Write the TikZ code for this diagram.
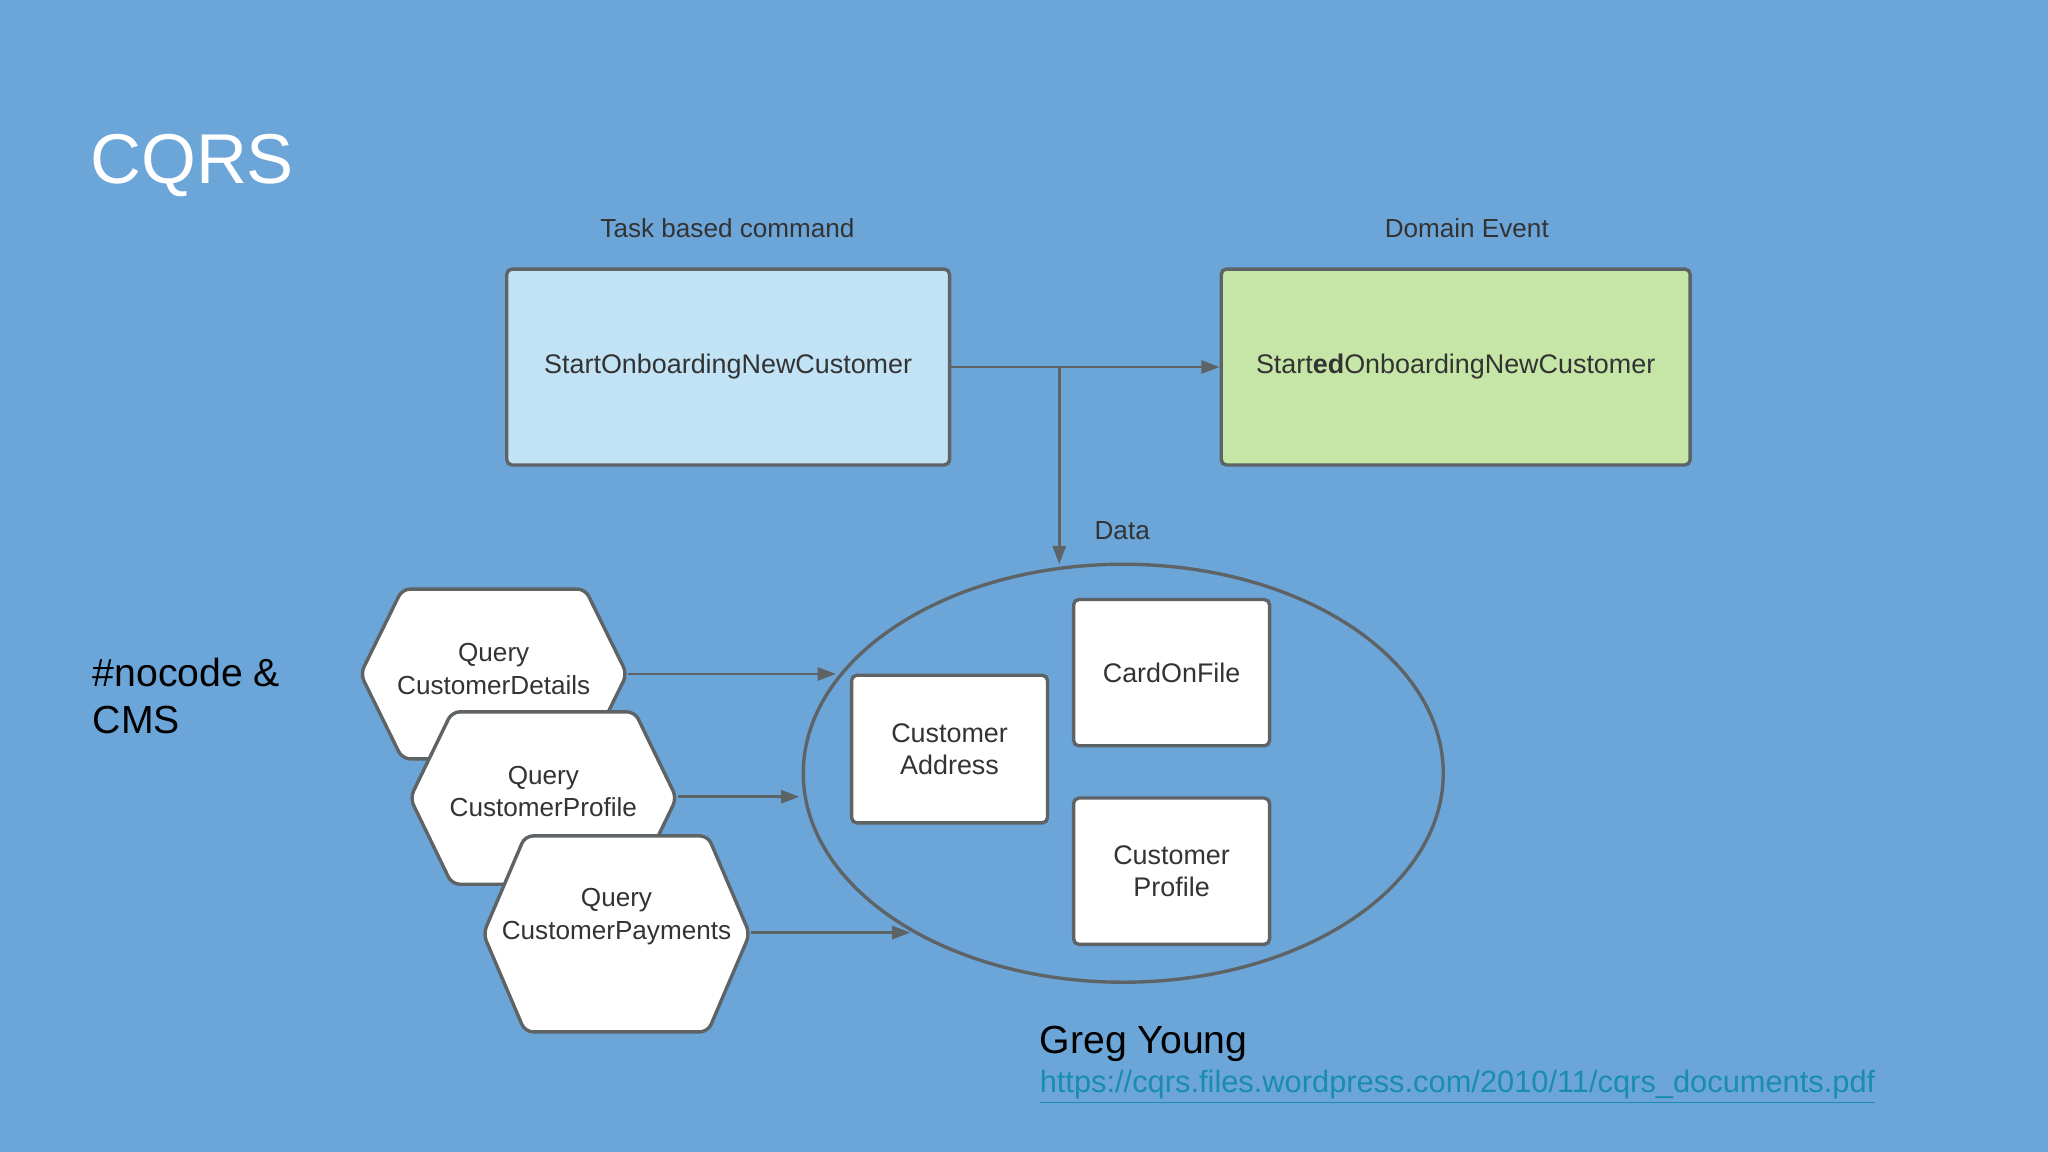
\documentclass[tikz,border=0pt]{standalone}
\usepackage{fontspec}
\setmainfont{Liberation Sans}
\usetikzlibrary{arrows.meta}
\definecolor{bg}{HTML}{6CA6D9}
\definecolor{bluebox}{HTML}{C2E2F5}
\definecolor{greenbox}{HTML}{C5E6A6}
\definecolor{edge}{HTML}{5E6366}
\definecolor{txt}{HTML}{333333}
\definecolor{link}{HTML}{1A8CB0}
\begin{document}
\begin{tikzpicture}[x=0.5pt,y=-0.5pt,
  box/.style={draw=edge,line width=1.3pt,rounded corners=2pt,text=txt,font=\fontsize{10.3}{12.5}\selectfont,align=center},
  lbl/.style={text=txt,font=\fontsize{10}{12}\selectfont},
  arr/.style={draw=edge,line width=1pt,-{Triangle[length=7pt,width=5pt]}},
  hexlbl/.style={text=txt,font=\fontsize{10}{12.5}\selectfont,align=center}]
\fill[bg] (0,0) rectangle (1568,882);
\useasboundingbox (0,0) rectangle (1568,882);
\node[anchor=west,white,font=\fontsize{27}{30}\selectfont] (title) at (62,127) {CQRS};
\node[lbl] (tbc) at (557,175) {Task based command};
\node[lbl] (de) at (1123,175) {Domain Event};
\node[box,fill=bluebox,minimum width=169.5pt,minimum height=75pt] (cmd) at (557.5,281) {StartOnboardingNewCustomer};
\node[box,fill=greenbox,minimum width=179.5pt,minimum height=75pt] (evt) at (1114.5,281) {Start\textbf{ed}OnboardingNewCustomer};
\draw[draw=edge,line width=1.3pt] (860,592) ellipse [x radius=245,y radius=160];
\coordinate (etop) at (811,432);
\coordinate (br) at (811,281);
\draw[arr] (cmd.east) -- (evt.west);
\draw[arr] (br) -- (etop);
\node[lbl,anchor=west] (data) at (831,406) {Data};
\node[box,fill=white,minimum width=75pt,minimum height=56.5pt] (addr) at (727,573.5) {Customer\\Address};
\node[box,fill=white,minimum width=75pt,minimum height=56pt] (card) at (897,515) {CardOnFile};
\node[box,fill=white,minimum width=75pt,minimum height=56pt] (prof) at (897,667) {Customer\\Profile};
\foreach \n/\cx/\cy/\h/\t/\o in {h1/378/516/65/{Query\\CustomerDetails}/4,h2/416/611/66/{Query\\CustomerProfile}/5,h3/472/715/75/{Query\\CustomerPayments}/13}{
  \draw[draw=edge,line width=1.3pt,fill=white,rounded corners=3pt]
    (\cx-102,\cy) -- (\cx-70,\cy-\h) -- (\cx+70,\cy-\h) -- (\cx+102,\cy) -- (\cx+70,\cy+\h) -- (\cx-70,\cy+\h) -- cycle;
  \node[hexlbl] (\n) at (\cx,\cy-\o) {\t};
}
\coordinate (h1e) at (481,516);
\coordinate (h2e) at (519,610);
\coordinate (h3e) at (575,714);
\coordinate (t1) at (640,516);
\coordinate (t2) at (612,610);
\coordinate (t3) at (697,714);
\draw[arr] (h1e) -- (t1);
\draw[arr] (h2e) -- (t2);
\draw[arr] (h3e) -- (t3);
\node[anchor=north west,align=left,black,font=\fontsize{15}{18}\selectfont] (nc) at (64,497) {\#nocode \&\\CMS};
\node[anchor=west,black,font=\fontsize{15}{18}\selectfont] (greg) at (789,799) {Greg Young};
\node[anchor=west,link,font=\fontsize{11.8}{14}\selectfont] (url) at (789,832) {\underline{https://cqrs.files.wordpress.com/2010/11/cqrs\_documents.pdf}};
\end{tikzpicture}
\end{document}
